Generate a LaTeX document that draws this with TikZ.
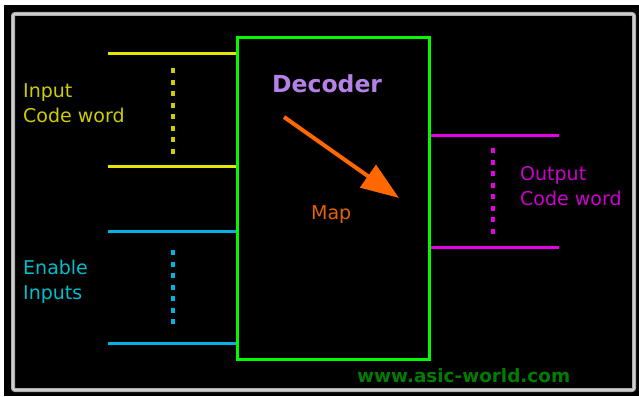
\documentclass[tikz,border=0pt]{standalone}
\usepackage{fontspec}
\setmainfont{DejaVu Sans}
\usepackage{xcolor}
\usetikzlibrary{arrows.meta}
\definecolor{wireyellow}{RGB}{230,230,0}
\definecolor{textyellow}{RGB}{205,205,0}
\definecolor{wirecyan}{RGB}{0,178,230}
\definecolor{textcyan}{RGB}{0,190,205}
\definecolor{wiremagenta}{RGB}{230,0,230}
\definecolor{textmagenta}{RGB}{205,0,205}
\definecolor{boxgreen}{RGB}{0,250,0}
\definecolor{decpurple}{RGB}{180,130,230}
\definecolor{maporange}{RGB}{255,104,0}
\definecolor{textorange}{RGB}{225,100,0}
\definecolor{webgreen}{RGB}{0,125,0}
\tikzstyle{decbox} = [rectangle, draw=boxgreen, line width=3pt, minimum width=192pt, minimum height=321pt, inner sep=0pt]
\tikzstyle{wire} = [line width=3pt]
\tikzstyle{dots} = [line width=4pt, dash pattern=on 5pt off 6.5pt]
\tikzstyle{label} = [anchor=base west, inner sep=0pt, align=left, font=\fontsize{19}{25}\selectfont]
\tikzstyle{maparrow} = [draw=maporange, line width=4pt, -{Triangle[length=38pt,width=27pt]}]

\begin{document}
\begin{tikzpicture}[x=1pt, y=-1pt]
		\useasboundingbox (0,0) rectangle (639,396);
		% Background and frame
		\fill[black] (4,5) rectangle (639,396);
		\draw[gray!65, line width=4pt, rounded corners=2pt] (13,14) rectangle (634,390);
		\draw[gray!25, line width=1.2pt, rounded corners=2pt] (13,14) rectangle (634,390);
		% Place nodes
		\node [decbox] (decoder) at (333,198.5) {};
		\node [label, font=\fontsize{23.5}{28}\selectfont\bfseries, text=decpurple] (title) at (272,92) {Decoder};
		\node [label, text=textorange] (map) at (311,219) {Map};
		\node [label, text=textyellow] (incode) at (23,122) {Input\\Code word};
		\node [label, text=textcyan] (enable) at (23,299) {Enable\\Inputs};
		\node [label, text=textmagenta] (outcode) at (520,205) {Output\\Code word};
		\node [label, font=\fontsize{18.4}{22}\selectfont\bfseries, text=webgreen] (web) at (357,382) {www.asic-world.com};
		% Free wire ends
		\coordinate (in1) at (108,54);
		\coordinate (in2) at (108,166);
		\coordinate (en1) at (108,231);
		\coordinate (en2) at (108,343);
		\coordinate (out1) at (559,135);
		\coordinate (out2) at (559,247);
		\coordinate (mapa) at (284,117);
		\coordinate (mapb) at (399,198);
		% Draw edges
		\draw [wire, wireyellow] (in1) -- (in1 -| decoder.west);
		\draw [wire, wireyellow] (in2) -- (in2 -| decoder.west);
		\draw [dots, textyellow] (173,68) -- (173,153.5);
		\draw [wire, wirecyan] (en1) -- (en1 -| decoder.west);
		\draw [wire, wirecyan] (en2) -- (en2 -| decoder.west);
		\draw [dots, wirecyan] (173,250) -- (173,324);
		\draw [wire, wiremagenta] (out1) -- (out1 -| decoder.east);
		\draw [wire, wiremagenta] (out2) -- (out2 -| decoder.east);
		\draw [dots, wiremagenta] (493,148) -- (493,233.5);
		\draw [maparrow] (mapa) -- (mapb);
	\end{tikzpicture}
\end{document}
